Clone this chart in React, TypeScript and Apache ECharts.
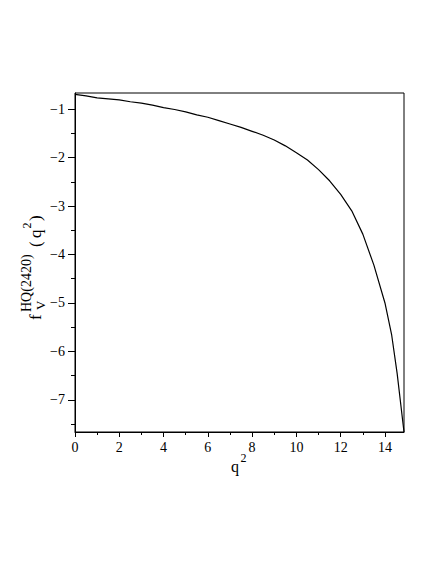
import React, { useEffect, useRef } from "react";
import * as echarts from "echarts";

const qValues = [0, 0.5, 1, 1.5, 2, 2.5, 3, 3.5, 4, 4.5, 5, 5.5, 6, 6.5, 7, 7.5, 8, 8.5, 9, 9.5, 10, 10.5, 11, 11.5, 12, 12.5, 13, 13.5, 14, 14.3, 14.55, 14.86];
const fValues = [-0.70, -0.73, -0.77, -0.79, -0.81, -0.85, -0.88, -0.92, -0.97, -1.01, -1.06, -1.12, -1.17, -1.24, -1.31, -1.38, -1.46, -1.54, -1.64, -1.76, -1.90, -2.05, -2.25, -2.48, -2.76, -3.10, -3.58, -4.22, -5.00, -5.65, -6.45, -7.66];
const xMajorTicks = [0, 2, 4, 6, 8, 10, 12, 14];
const xMinorTicks = [1, 3, 5, 7, 9, 11, 13];
const yMajorTicks = [-1, -2, -3, -4, -5, -6, -7];
const yMinorTicks = [-1.5, -2.5, -3.5, -4.5, -5.5, -6.5, -7.5];

const X_MIN = 0;
const X_MAX = 14.86;
const Y_MIN = -7.66;
const Y_MAX = -0.67;

const FONT = '"Liberation Serif", "Times New Roman", serif';

export default function App() {
  const ref = useRef<HTMLDivElement>(null);
  useEffect(() => {
    if (!ref.current) return;
    const chart = echarts.init(ref.current, null, { renderer: "svg" });
    const fmt = (v: number) => (v < 0 ? "\u2212" + Math.abs(v) : String(v));
    const axisLineStyle = { color: "#000", width: 1 };
    const data = qValues.map((q, i) => [q, fValues[i]]);
    const t = (text: string, x: number, y: number, size: number) => ({
      type: "text",
      x,
      y,
      style: { text, font: `${size}px ${FONT}`, fill: "#000", textVerticalAlign: "middle" },
    });
    chart.setOption({
      animation: false,
      backgroundColor: "#fff",
      grid: {
        left: 75,
        right: 32,
        top: 93,
        bottom: 132,
        show: true,
        borderColor: "#000",
        borderWidth: 1,
        backgroundColor: "transparent",
      },
      xAxis: [
        {
          type: "value",
          min: X_MIN,
          max: X_MAX,
          axisLine: { show: true, lineStyle: axisLineStyle },
          axisTick: { show: true, inside: false, length: 5, customValues: xMajorTicks, lineStyle: axisLineStyle },
          axisLabel: { customValues: xMajorTicks, margin: 8, color: "#000", fontFamily: FONT, fontSize: 14, formatter: fmt },
          splitLine: { show: false },
        },
        {
          type: "value",
          position: "bottom",
          min: X_MIN,
          max: X_MAX,
          axisLine: { show: false },
          axisTick: { show: true, inside: false, length: 3, customValues: xMinorTicks, lineStyle: axisLineStyle },
          axisLabel: { show: false },
          splitLine: { show: false },
        },
      ],
      yAxis: [
        {
          type: "value",
          min: Y_MIN,
          max: Y_MAX,
          axisLine: { show: true, lineStyle: axisLineStyle },
          axisTick: { show: true, inside: false, length: 7, customValues: yMajorTicks, lineStyle: axisLineStyle },
          axisLabel: { customValues: yMajorTicks, margin: 10, color: "#000", fontFamily: FONT, fontSize: 14, formatter: fmt },
          splitLine: { show: false },
        },
        {
          type: "value",
          position: "left",
          min: Y_MIN,
          max: Y_MAX,
          axisLine: { show: false },
          axisTick: { show: true, inside: false, length: 4, customValues: yMinorTicks, lineStyle: axisLineStyle },
          axisLabel: { show: false },
          splitLine: { show: false },
        },
      ],
      series: [
        {
          type: "line",
          xAxisIndex: 0,
          yAxisIndex: 0,
          data,
          showSymbol: false,
          smooth: false,
          lineStyle: { color: "#000", width: 1.2 },
        },
      ],
      graphic: [
        t("q", 231, 466, 16),
        t("2", 240.5, 458, 12),
        {
          type: "group",
          x: 35,
          y: 320,
          rotation: Math.PI / 2,
          children: [
            t("f", 0, 0, 17),
            t("HQ(2420)", 8, -9, 14),
            t("V", 10, 5, 13),
            t("(", 73, 0, 17),
            t("q", 82, 0, 17),
            t("2", 91.5, -8, 12),
            t(")", 99, 0, 17),
          ],
        },
      ],
    });
    return () => chart.dispose();
  }, []);
  return (
    <div
      ref={ref}
      style={{ position: "fixed", left: 0, top: 0, width: 436, height: 564, background: "#fff" }}
    />
  );
}
